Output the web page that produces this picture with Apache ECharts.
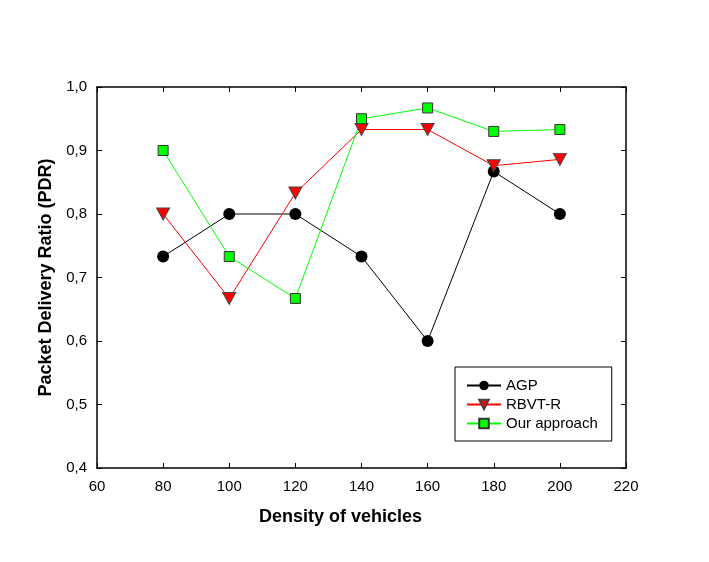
<!DOCTYPE html>
<html>
<head>
<meta charset="utf-8">
<script src="https://cdn.jsdelivr.net/npm/echarts@6/dist/echarts.min.js"></script>
<style>
html, body { margin: 0; padding: 0; background: #fff; }
#chart { width: 709px; height: 562px; }
</style>
</head>
<body>
<div id="chart"></div>
<script>
const densities = [80, 100, 120, 140, 160, 180, 200];
const agp = [0.733, 0.8, 0.8, 0.733, 0.6, 0.867, 0.8];
const rbvtr = [0.8, 0.667, 0.833, 0.933, 0.933, 0.876, 0.886];
const ourApproach = [0.9, 0.733, 0.667, 0.95, 0.967, 0.93, 0.933];

const pairs = vals => densities.map((d, i) => [d, vals[i]]);
const font = 'Liberation Sans, Arial, sans-serif';
const triDown = 'path://M0,0 L10,0 L5,9 Z';

const chart = echarts.init(document.getElementById('chart'));
const tickStyle = { inside: true, length: 5, lineStyle: { color: '#000', width: 1 } };
const lineStyle = { color: '#000', width: 1.5 };

chart.setOption({
  animation: false,
  grid: { left: 97, top: 87, width: 529, height: 381 },
  legend: {
    orient: 'vertical',
    left: 455, top: 367,
    padding: [11, 14, 10, 11],
    itemGap: 4,
    itemWidth: 34, itemHeight: 12,
    borderColor: '#000', borderWidth: 1,
    textStyle: { fontFamily: font, fontSize: 15, color: '#000' },
    data: ['AGP', 'RBVT-R', 'Our approach']
  },
  xAxis: [
    {
      type: 'value', min: 60, max: 220, interval: 20,
      name: 'Density of vehicles', nameLocation: 'middle', nameGap: 40,
      nameTextStyle: { fontFamily: font, fontSize: 18, fontWeight: 'bold', color: '#000', padding: [0, 42, 0, 0] },
      axisLine: { lineStyle }, axisTick: tickStyle, splitLine: { show: false },
      axisLabel: { fontFamily: font, fontSize: 15, color: '#000', margin: 11 }
    },
    {
      type: 'value', position: 'top', min: 60, max: 220, interval: 20,
      axisLine: { show: true, lineStyle }, axisTick: tickStyle,
      axisLabel: { show: false }, splitLine: { show: false }
    }
  ],
  yAxis: [
    {
      type: 'value', min: 0.4, max: 1.0, interval: 0.1,
      name: 'Packet Delivery Ratio (PDR)', nameLocation: 'middle', nameGap: 42,
      nameTextStyle: { fontFamily: font, fontSize: 18, fontWeight: 'bold', color: '#000' },
      axisLine: { show: true, lineStyle }, axisTick: tickStyle, splitLine: { show: false },
      axisLabel: {
        fontFamily: font, fontSize: 15, color: '#000', margin: 10,
        formatter: v => v.toFixed(1).replace('.', ',')
      }
    },
    {
      type: 'value', position: 'right', min: 0.4, max: 1.0, interval: 0.1,
      axisLine: { show: true, lineStyle }, axisTick: tickStyle,
      axisLabel: { show: false }, splitLine: { show: false }
    }
  ],
  series: [
    {
      name: 'AGP', type: 'line', data: pairs(agp),
      symbol: 'circle', symbolSize: 12,
      lineStyle: { color: '#000', width: 1 },
      itemStyle: { color: '#000', borderColor: '#000', borderWidth: 0 }
    },
    {
      name: 'RBVT-R', type: 'line', data: pairs(rbvtr),
      symbol: triDown, symbolSize: [13, 12],
      lineStyle: { color: '#ff0000', width: 1 },
      itemStyle: { color: '#ff0000', borderColor: '#444', borderWidth: 1 }
    },
    {
      name: 'Our approach', type: 'line', data: pairs(ourApproach),
      symbol: 'rect', symbolSize: 10,
      lineStyle: { color: '#00ff00', width: 1 },
      itemStyle: { color: '#00ff00', borderColor: '#333', borderWidth: 1 }
    }
  ]
});
</script>
</body>
</html>
